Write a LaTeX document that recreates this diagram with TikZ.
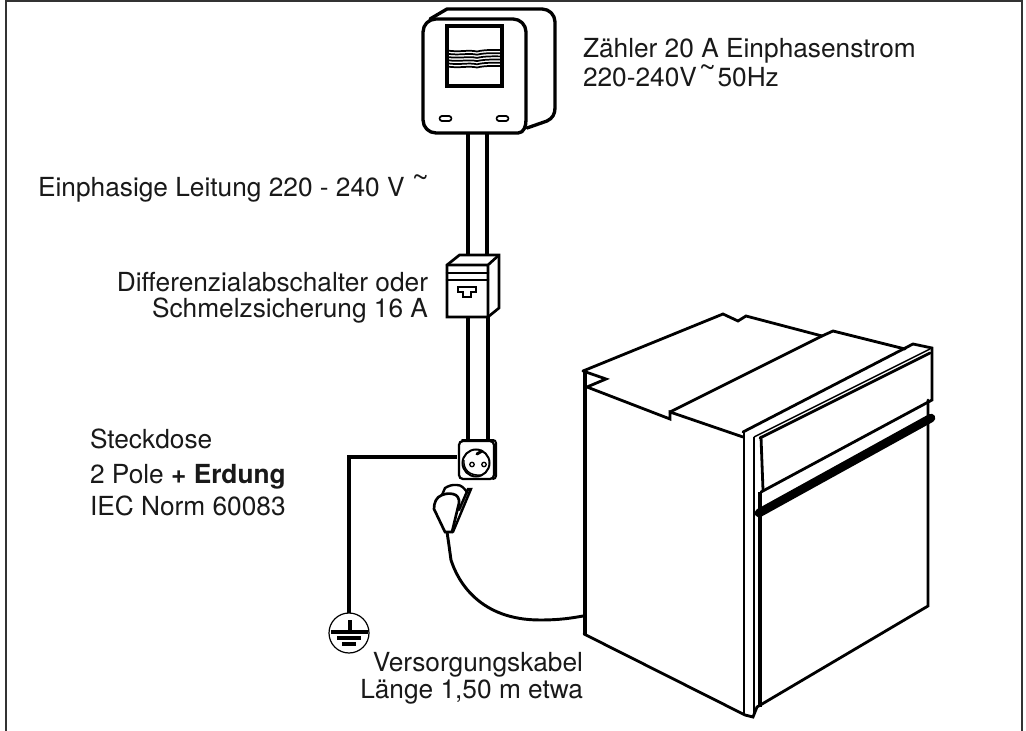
\documentclass[tikz,border=0pt]{standalone}
\usepackage{fontspec}
\setmainfont{TeX Gyre Heros}
\newcommand{\tld}{\smash{\makebox[10pt][l]{\raisebox{7pt}{\fontsize{22}{22}\selectfont\textasciitilde}}}}
\tikzset{
 lab/.style={inner sep=0pt,outer sep=0pt,font=\fontsize{19.7}{24}\selectfont,text=black!90},
 th/.style={line width=2.5pt,line join=round,line cap=round},
 md/.style={line width=2pt,line join=miter,line cap=round},
 ov/.style={line width=2.1pt,line join=miter,line cap=round},
 tn/.style={line width=1.1pt,line join=round},
 wire/.style={line width=2.5pt,line join=miter},
 slotout/.style={line width=5pt,line cap=round},
 slotin/.style={line width=2.6pt,line cap=round,white}
}
\begin{document}
\begin{tikzpicture}[x=0.75pt,y=-0.75pt]
\useasboundingbox (0,0) rectangle (1026,731);
\fill[white] (0,0) rectangle (1026,731);
% frame
\draw[line width=1.5pt,black!80] (5.5,731) -- (5.5,1) -- (1021.5,1) -- (1021.5,731);
% meter cables
\coordinate (c1t) at (468,133); \coordinate (c1b) at (468,265);
\coordinate (c2t) at (487,133); \coordinate (c2b) at (487,255);
\draw[wire] (c1t)--(c1b) (c2t)--(c2b);
\draw[wire] (468,317)--(468,442) (488,317)--(488,442);
% meter
\draw[th] (430,19) -- (447,9) -- (542,9) to[out=0,in=90] (555,22) -- (555,108) to[out=-90,in=25] (547,121) -- (527,128);
\draw[th,fill=white] (423,32) to[out=90,in=180] (436,19) -- (513,19) to[out=0,in=90] (526,32) -- (526,120) to[out=-90,in=0] (518,133) -- (436,133) to[out=180,in=-90] (423,120) -- cycle;
\draw[line width=2.6pt,miter limit=4] (447,26) rectangle (502,86);
\foreach \d in {0,3.2,6.4,9.6,12.8,16}{
 \draw[line width=1.3pt] (447,{50.5+\d}) .. controls (460,{52.5+\d}) and (468,{49.5+\d}) .. (477,{51.5+\d}) .. controls (485,{49.5+\d}) and (495,{50+\d}) .. (502,{50+\d});
}
\draw[slotout] (442,118.5) -- (449,118.5);
\draw[slotin] (442,118.5) -- (449,118.5);
\draw[slotout] (499,118.5) -- (506,118.5);
\draw[slotin] (499,118.5) -- (506,118.5);
% breaker
\draw[md,fill=white] (447,265) -- (459.5,255) -- (499,255) -- (499,308) -- (488,317) -- (447,317) -- cycle;
\draw[md] (447,265) -- (488,265) -- (499,255) (488,265) -- (488,317);
\draw[md] (447,273) -- (488,273) (447,280) -- (488,280);
\draw[md,line width=1.7pt] (458,287) -- (476,287) -- (476,292) -- (471,292) -- (471,297) -- (463,297) -- (463,292) -- (458,292) -- cycle;
% socket
\draw[md,line width=1.5pt] (462,440) -- (493,440) to[out=0,in=90] (496,443) -- (496,476) to[out=-90,in=0] (493,479);
\draw[md,fill=white,line width=1.7pt,rounded corners=3pt] (459,441) rectangle (494,479);
\draw[line width=1.5pt] (476,463) circle[radius=13.5];
\draw[line width=1.1pt] (464,460) .. controls (463,470) and (470,476) .. (481,475);
\draw[line width=2.2pt,line cap=round] (477,454) -- (482,451);
\draw[line width=1pt] (472,464.5) circle[radius=2.2] (484,464.5) circle[radius=2.2];
% earth wire
\coordinate (sock) at (457,457);
\coordinate (gnd) at (349,613);
\draw[wire] (sock) -- (349,457) -- (gnd);
\draw[line width=0.9pt,fill=white] (349,633) circle[radius=20];
\draw[line width=3pt] (350,620) -- (350,632);
\draw[line width=3pt] (331,632) -- (368,632);
\draw[line width=3pt] (337,638) -- (361,638);
\draw[line width=3pt] (342,644) -- (356,644);
% cable
\draw[line width=2.2pt] (447,532) .. controls (449,545) and (450,553) .. (451,560) .. controls (458,582) and (480,620) .. (540,620) .. controls (560,620) and (572,618) .. (583,616);
% plug
\draw[md,line width=1.8pt] (442,495) -- (445,488) to[out=30,in=175] (457,485) to[out=0,in=130] (467,492);
\draw[md,line width=2pt,fill=white] (445,532) -- (434,509) to[out=90,in=200] (442,495) to[out=20,in=170] (453,494) to[out=-10,in=80] (459,503) -- (452,532) -- cycle;
\draw[md,line width=1.8pt] (453,532) -- (471,489) -- (468,489) -- (459,510);
% oven
\draw[ov] (583,371) -- (723,314) -- (738,321) -- (746,316) -- (822,336);
\draw[ov] (822,336) -- (833,331) -- (905,349);
\draw[ov] (583,371) -- (606,379) -- (587,387) -- (670,419) -- (670,412) -- (743,437);
\draw[ov] (670,412) -- (822,336);
\draw[line width=3.6pt] (585,371) -- (585,634);
\draw[ov] (584,634) -- (745,715) -- (753,717) -- (757,707) -- (928,606) -- (928,400);
\draw[ov] (744,433) -- (744,714);
\draw[tn] (754,437) -- (754,716);
\draw[line width=2.3pt] (760,492) -- (760,707);
\draw[ov] (743,432) -- (913,344) -- (932,348) -- (932,400) -- (761,492);
\draw[tn] (754,437) -- (930,349);
\draw[ov] (760,438) -- (930,353);
\draw[ov] (761,437) -- (763,490);
\draw[line width=6.5pt,line cap=round] (759,513) -- (931,418);
% labels
\node[lab,anchor=base west] (t1) at (583,58) {Zähler 20 A Einphasenstrom};
\node[lab,anchor=base west] (t2) at (583,87) {220-240V\hspace{1.5pt}\tld\hspace{4pt}50Hz};
\node[lab,anchor=base west] (t3) at (38,197) {Einphasige Leitung 220 - 240 V \tld};
\node[lab,anchor=base east] (t4) at (428,292) {Differenzialabschalter oder};
\node[lab,anchor=base east] (t5) at (428,318) {Schmelzsicherung 16 A};
\node[lab,anchor=base west] (t6) at (90,449) {Steckdose};
\node[lab,anchor=base west] (t7) at (90,483) {2 Pole \textbf{+ Erdung}};
\node[lab,anchor=base west] (t8) at (90,515) {IEC Norm 60083};
\node[lab,anchor=base east] (t9) at (583,671) {Versorgungskabel};
\node[lab,anchor=base east] (t10) at (583,698) {Länge 1,50 m etwa};
\end{tikzpicture}
\end{document}
